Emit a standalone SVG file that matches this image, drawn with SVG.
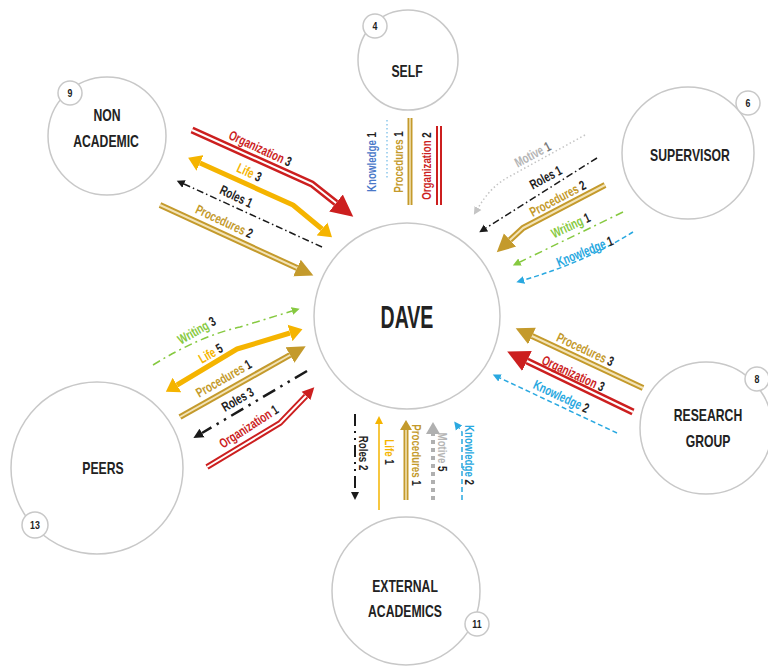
<svg xmlns="http://www.w3.org/2000/svg" width="768" height="668" viewBox="0 0 768 668">
<defs>
<style>
.c{fill:#fff;stroke:#c8c8c8;stroke-width:1.5}
.t{font-family:"Liberation Sans",Arial,sans-serif;font-weight:bold;fill:#222;text-anchor:middle}
.nt{font-size:16.5px}
.dt{font-size:31px}
.bt{font-size:11px}
.lb{font-family:"Liberation Sans",Arial,sans-serif;font-weight:bold;font-size:13.5px;text-anchor:middle}
.k{fill:#222}
.fr{fill:#cc1f1f}.fg{fill:#c49a2c}.fy{fill:#f5b400}.fn{fill:#86c940}.fb{fill:#29a8e0}.fs{fill:#b5b5b5}.fkb{fill:#4a78c8}
.ln{fill:none;stroke-linejoin:round}
.red{stroke:#cc1f1f;stroke-width:7}
.redS{stroke:#cc1f1f;stroke-width:6}
.gold{stroke:#c49a2c;stroke-width:6}
.goldS{stroke:#c49a2c;stroke-width:5}
.in{stroke:#fff;stroke-width:2}
.ing{stroke:#f3e4b8;stroke-width:2}
.yel{stroke:#f5b400;stroke-width:5}
.yelT{stroke:#f5b400;stroke-width:1.5}
.blk{stroke:#1a1a1a;stroke-width:1.5;stroke-dasharray:7 3 1.5 3}
.blkB{stroke:#1a1a1a;stroke-width:2.5;stroke-dasharray:14 6 2.5 6 2.5 6}
.blkV{stroke:#1a1a1a;stroke-width:2;stroke-dasharray:12 5 2 5 2 5}
.grn{stroke:#86c940;stroke-width:1.5;stroke-dasharray:8 4 2 4}
.blu{stroke:#29a8e0;stroke-width:1.5;stroke-dasharray:5 3}
.bluD{stroke:#8cc8ec;stroke-width:1.5;stroke-dasharray:1.5 2.5}
.gry{stroke:#c4c4c4;stroke-width:1.5;stroke-dasharray:1.5 2.5}
.gryB{stroke:#b0b0b0;stroke-width:4;stroke-dasharray:4 4}
</style>
<marker id="aRedL" viewBox="0 -12 24 24" refX="0" refY="0" markerWidth="24" markerHeight="24" markerUnits="userSpaceOnUse" orient="auto"><polygon points="0,-11 22,0 0,11" fill="#cc1f1f"/></marker>
<marker id="aRedS" viewBox="0 -7 14 14" refX="0" refY="0" markerWidth="14" markerHeight="14" markerUnits="userSpaceOnUse" orient="auto"><polygon points="0,-6 12,0 0,6" fill="#cc1f1f"/></marker>
<marker id="aGold" viewBox="0 -10 20 20" refX="0" refY="0" markerWidth="20" markerHeight="20" markerUnits="userSpaceOnUse" orient="auto"><polygon points="0,-9 18,0 0,9" fill="#c49a2c"/></marker>
<marker id="aGoldS" viewBox="0 -7 12 14" refX="0" refY="0" markerWidth="12" markerHeight="14" markerUnits="userSpaceOnUse" orient="auto"><polygon points="0,-6 10,0 0,6" fill="#c49a2c"/></marker>
<marker id="aYel" viewBox="0 -9 15 18" refX="0" refY="0" markerWidth="15" markerHeight="18" markerUnits="userSpaceOnUse" orient="auto-start-reverse"><polygon points="0,-8.5 13,0 0,8.5" fill="#f5b400"/></marker>
<marker id="aYelS" viewBox="0 -5 10 10" refX="0" refY="0" markerWidth="10" markerHeight="10" markerUnits="userSpaceOnUse" orient="auto"><polygon points="0,-4 8,0 0,4" fill="#f5b400"/></marker>
<marker id="aBlk" viewBox="0 -5 10 10" refX="0" refY="0" markerWidth="10" markerHeight="10" markerUnits="userSpaceOnUse" orient="auto"><polygon points="0,-4 8,0 0,4" fill="#1a1a1a"/></marker>
<marker id="aBlkM" viewBox="0 -6 12 12" refX="0" refY="0" markerWidth="12" markerHeight="12" markerUnits="userSpaceOnUse" orient="auto"><polygon points="0,-5 10,0 0,5" fill="#1a1a1a"/></marker>
<marker id="aGrn" viewBox="0 -5 10 10" refX="0" refY="0" markerWidth="10" markerHeight="10" markerUnits="userSpaceOnUse" orient="auto"><polygon points="0,-4 8,0 0,4" fill="#86c940"/></marker>
<marker id="aBlu" viewBox="0 -5 10 10" refX="0" refY="0" markerWidth="10" markerHeight="10" markerUnits="userSpaceOnUse" orient="auto"><polygon points="0,-4 8,0 0,4" fill="#29a8e0"/></marker>
<marker id="aGry" viewBox="0 -5 10 10" refX="0" refY="0" markerWidth="10" markerHeight="10" markerUnits="userSpaceOnUse" orient="auto"><polygon points="0,-4 8,0 0,4" fill="#c4c4c4"/></marker>
<marker id="aGryM" viewBox="0 -8 14 16" refX="0" refY="0" markerWidth="14" markerHeight="16" markerUnits="userSpaceOnUse" orient="auto"><polygon points="0,-7 12,0 0,7" fill="#b0b0b0"/></marker>
</defs>
<rect width="768" height="668" fill="#fff"/>

<g id="nodes">
<g id="n-dave"><circle class="c" cx="407" cy="316" r="93"/><text class="t dt" transform="translate(407,328) scale(0.63,1)">DAVE</text></g>
<g id="n-self"><circle class="c" cx="408" cy="60" r="50"/><circle class="c" cx="375" cy="26" r="12"/><text class="t bt" transform="translate(375,30) scale(0.8,1)">4</text><text class="t nt" transform="translate(407,77) scale(0.74,1)">SELF</text></g>
<g id="n-nonacademic"><circle class="c" cx="107" cy="136" r="59"/><circle class="c" cx="70" cy="93" r="12"/><text class="t bt" transform="translate(70,97) scale(0.8,1)">9</text><text class="t nt" transform="translate(107,121) scale(0.74,1)">NON</text><text class="t nt" transform="translate(106,147) scale(0.74,1)">ACADEMIC</text></g>
<g id="n-supervisor"><circle class="c" cx="688" cy="153" r="66"/><circle class="c" cx="748" cy="103" r="12"/><text class="t bt" transform="translate(748,107) scale(0.8,1)">6</text><text class="t nt" transform="translate(690,161) scale(0.74,1)">SUPERVISOR</text></g>
<g id="n-research"><circle class="c" cx="706" cy="428" r="66"/><circle class="c" cx="757" cy="379" r="12"/><text class="t bt" transform="translate(757,383) scale(0.8,1)">8</text><text class="t nt" transform="translate(708,421) scale(0.74,1)">RESEARCH</text><text class="t nt" transform="translate(708,447) scale(0.74,1)">GROUP</text></g>
<g id="n-peers"><circle class="c" cx="97" cy="468" r="86"/><circle class="c" cx="35" cy="525" r="13"/><text class="t bt" transform="translate(35,529) scale(0.8,1)">13</text><text class="t nt" transform="translate(103,474) scale(0.74,1)">PEERS</text></g>
<g id="n-external"><circle class="c" cx="406" cy="591" r="74"/><circle class="c" cx="477" cy="624" r="12"/><text class="t bt" transform="translate(477,628) scale(0.8,1)">11</text><text class="t nt" transform="translate(405,592) scale(0.74,1)">EXTERNAL</text><text class="t nt" transform="translate(405,617) scale(0.74,1)">ACADEMICS</text></g>
</g>

<g id="connectors">
<path class="ln red" d="M192,130 L312,184 L336,203" marker-end="url(#aRedL)"/>
<path class="ln in" d="M192,130 L312,184 L336,203"/>
<path class="ln yel" d="M200,163 L293,205 L322,229" marker-start="url(#aYel)" marker-end="url(#aYel)"/>
<path class="ln blk" d="M322,247 L184,184" marker-end="url(#aBlk)"/>
<path class="ln gold" d="M160,205 L297,268" marker-end="url(#aGold)"/>
<path class="ln ing" d="M160,205 L297,268"/>
<path class="ln bluD" d="M387,120 L387,180"/>
<path class="ln goldS" d="M410,118 L410,205"/>
<path class="ln ing" d="M410,118 L410,205" style="stroke-width:1.5"/>
<path class="ln redS" d="M439,126 L439,205"/>
<path class="ln in" d="M439,126 L439,205"/>
<path class="ln gry" d="M585,135 L505,179 Q490,188 478,208" marker-end="url(#aGry)"/>
<path class="ln blk" d="M597,158 L486,228" marker-end="url(#aBlk)"/>
<path class="ln gold" d="M605,185 L523,228 L510,240" marker-end="url(#aGold)"/>
<path class="ln ing" d="M605,185 L523,228 L510,240"/>
<path class="ln grn" d="M623,212 L520,262" marker-end="url(#aGrn)"/>
<path class="ln blu" d="M633,232 Q585,262 524,280" marker-end="url(#aBlu)"/>
<path class="ln gold" d="M643,388 L532,336" marker-end="url(#aGold)"/>
<path class="ln ing" d="M643,388 L532,336"/>
<path class="ln red" d="M633,412 L527,361" marker-end="url(#aRedL)"/>
<path class="ln in" d="M633,412 L527,361"/>
<path class="ln blu" d="M617,433 L500,378" marker-end="url(#aBlu)"/>
<path class="ln grn" d="M153,365 Q200,336 240,327 L292,311" marker-end="url(#aGrn)"/>
<path class="ln yel" d="M177,385 L237,349 L290,333" marker-start="url(#aYel)" marker-end="url(#aYel)"/>
<path class="ln gold" d="M180,417 L290,355" marker-end="url(#aGold)"/>
<path class="ln ing" d="M180,417 L290,355"/>
<path class="ln blkB" d="M307,371 L202,433" marker-end="url(#aBlkM)"/>
<path class="ln redS" d="M207,467 L280,423 L306,396" marker-end="url(#aRedS)"/>
<path class="ln in" d="M207,467 L280,423 L306,396"/>
<path class="ln blkV" d="M355,414 L355,492" marker-end="url(#aBlk)"/>
<path class="ln yelT" d="M379,510 L379,424" marker-end="url(#aYelS)"/>
<path class="ln goldS" d="M406,500 L406,430" marker-end="url(#aGoldS)"/>
<path class="ln ing" d="M406,500 L406,430" style="stroke-width:1.5"/>
<path class="ln gryB" d="M433,500 L433,434" marker-end="url(#aGryM)"/>
<path class="ln blu" d="M462,500 L462,432 L459,428" marker-end="url(#aBlu)"/>
</g>

<g id="labels">
<text class="lb" transform="translate(260,149) rotate(25) scale(0.72,1)" y="4"><tspan class="fr">Organization</tspan><tspan class="k"> 3</tspan></text>
<text class="lb" transform="translate(249,173) rotate(25) scale(0.72,1)" y="4"><tspan class="fy">Life</tspan><tspan class="k"> 3</tspan></text>
<text class="lb" transform="translate(236,197) rotate(25) scale(0.72,1)" y="4"><tspan class="k">Roles 1</tspan></text>
<text class="lb" transform="translate(224,222) rotate(25) scale(0.72,1)" y="4"><tspan class="fg">Procedures</tspan><tspan class="k"> 2</tspan></text>

<text class="lb" transform="translate(372,162) rotate(-90) scale(0.72,1)" y="4"><tspan class="fkb">Knowledge</tspan><tspan class="k"> 1</tspan></text>
<text class="lb" transform="translate(399,162) rotate(-90) scale(0.72,1)" y="4"><tspan class="fg">Procedures</tspan><tspan class="k"> 1</tspan></text>
<text class="lb" transform="translate(427,166) rotate(-90) scale(0.72,1)" y="4"><tspan class="fr">Organization</tspan><tspan class="k"> 2</tspan></text>

<text class="lb" transform="translate(533,155) rotate(-28) scale(0.72,1)" y="4"><tspan class="fs">Motive</tspan><tspan style="fill:#777"> 1</tspan></text>
<text class="lb" transform="translate(546,178) rotate(-28) scale(0.72,1)" y="4"><tspan class="k">Roles 1</tspan></text>
<text class="lb" transform="translate(558,199) rotate(-28) scale(0.72,1)" y="4"><tspan class="fg">Procedures</tspan><tspan class="k"> 2</tspan></text>
<text class="lb" transform="translate(571,226) rotate(-25) scale(0.72,1)" y="4"><tspan class="fn">Writing</tspan><tspan class="k"> 1</tspan></text>
<text class="lb" transform="translate(585,252) rotate(-22) scale(0.72,1)" y="4"><tspan class="fb">Knowledge</tspan><tspan class="k"> 1</tspan></text>

<text class="lb" transform="translate(585,350) rotate(25) scale(0.72,1)" y="4"><tspan class="fg">Procedures</tspan><tspan class="k"> 3</tspan></text>
<text class="lb" transform="translate(573,374) rotate(25) scale(0.72,1)" y="4"><tspan class="fr">Organization</tspan><tspan class="k"> 3</tspan></text>
<text class="lb" transform="translate(561,397) rotate(25) scale(0.72,1)" y="4"><tspan class="fb">Knowledge</tspan><tspan class="k"> 2</tspan></text>

<text class="lb" transform="translate(197,331) rotate(-30) scale(0.72,1)" y="4"><tspan class="fn">Writing</tspan><tspan class="k"> 3</tspan></text>
<text class="lb" transform="translate(211,354) rotate(-30) scale(0.72,1)" y="4"><tspan class="fy">Life</tspan><tspan class="k"> 5</tspan></text>
<text class="lb" transform="translate(224,379) rotate(-30) scale(0.72,1)" y="4"><tspan class="fg">Procedures</tspan><tspan class="k"> 1</tspan></text>
<text class="lb" transform="translate(238,400) rotate(-30) scale(0.72,1)" y="4"><tspan class="k">Roles 3</tspan></text>
<text class="lb" transform="translate(249,427) rotate(-33) scale(0.72,1)" y="4"><tspan class="fr">Organization</tspan><tspan class="k"> 1</tspan></text>

<text class="lb" transform="translate(363,453) rotate(90) scale(0.72,1)" y="4"><tspan class="k">Roles 2</tspan></text>
<text class="lb" transform="translate(389,452) rotate(90) scale(0.72,1)" y="4"><tspan class="fy">Life</tspan><tspan class="k"> 1</tspan></text>
<text class="lb" transform="translate(416,455) rotate(90) scale(0.72,1)" y="4"><tspan class="fg">Procedures</tspan><tspan class="k"> 1</tspan></text>
<text class="lb" transform="translate(442,452) rotate(90) scale(0.72,1)" y="4"><tspan class="fs">Motive</tspan><tspan class="k"> 5</tspan></text>
<text class="lb" transform="translate(469,455) rotate(90) scale(0.72,1)" y="4"><tspan class="fb">Knowledge</tspan><tspan class="k"> 2</tspan></text>
</g>
</svg>
